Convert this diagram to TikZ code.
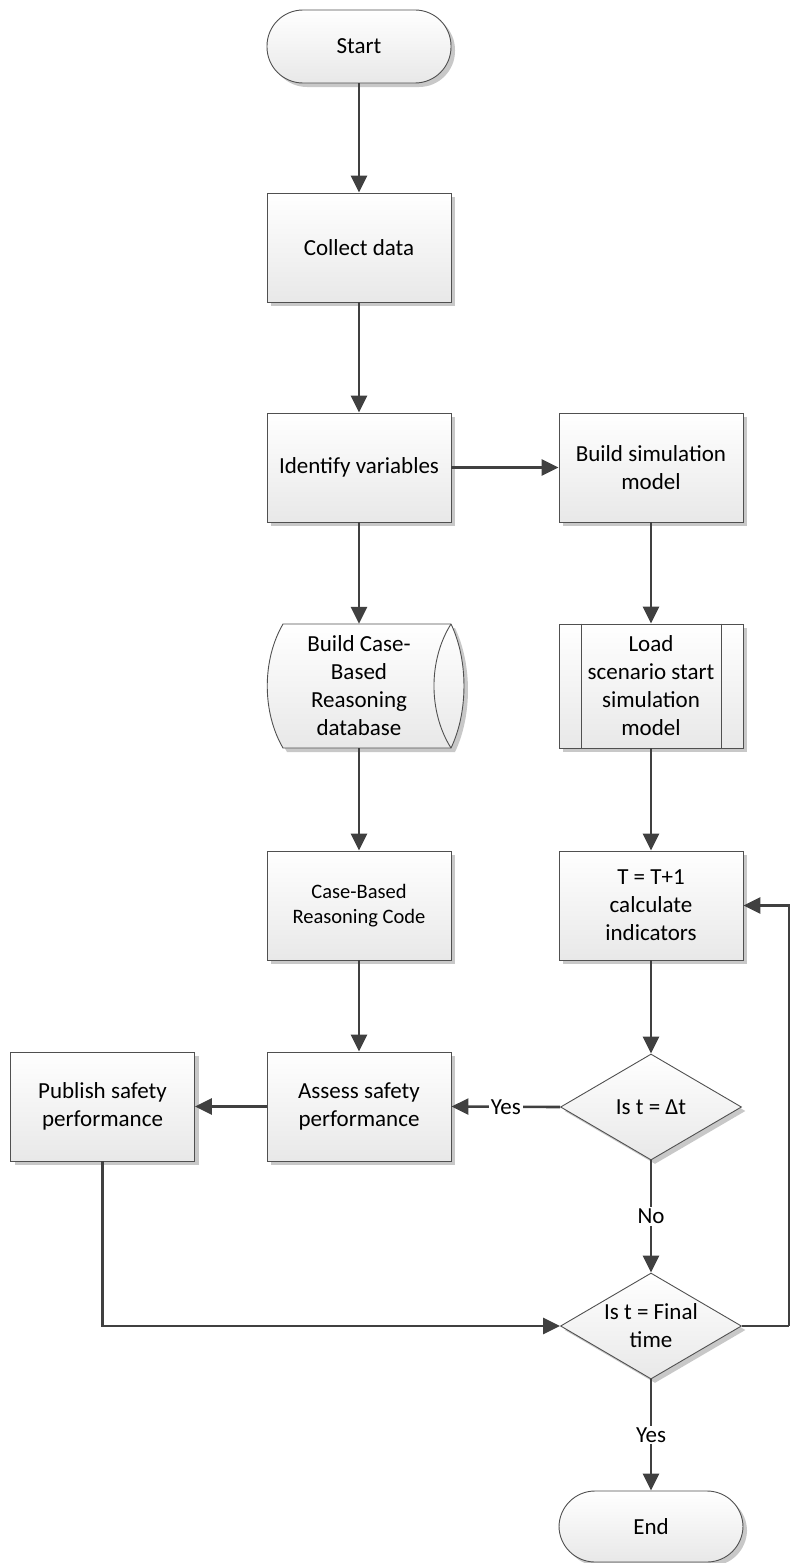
\documentclass[tikz,border=0pt]{standalone}
\usepackage{fontspec}
\setmainfont{Carlito}
\usetikzlibrary{shapes.geometric,arrows.meta,shadows,calc}
\definecolor{linecol}{HTML}{404040}
\definecolor{edgecol}{HTML}{505050}
\definecolor{shadecol}{HTML}{C8C8C8}
\begin{document}
\begin{tikzpicture}[x=1pt,y=-1pt,
  shaded/.style={draw=edgecol, line width=0.9pt, top color=white, bottom color=black!9},
  base/.style={shaded, font=\fontsize{23}{28}\selectfont, align=center, inner sep=0pt,
    drop shadow={shadow xshift=4pt, shadow yshift=-4pt, fill=shadecol, opacity=1}},
  procbox/.style={base, rectangle, minimum width=184pt, minimum height=109pt},
  termbox/.style={base, rectangle, rounded corners=36pt, minimum width=184pt, minimum height=73pt},
  decision/.style={base, diamond, aspect=1.7, minimum width=181pt, minimum height=106pt},
  plain/.style={font=\fontsize{23}{28}\selectfont, align=center, inner sep=0pt},
  flow/.style={draw=linecol, line width=2.6pt, -{Triangle[length=17pt,width=16pt]}},
  line/.style={draw=linecol, line width=2.6pt},
  tag/.style={fill=white, inner sep=2pt, font=\fontsize{23}{28}\selectfont}]
\useasboundingbox (0,0) rectangle (790,1563);

% left column
\node[termbox] (start) at (359,46.5) {Start};
\node[procbox] (collect) at (359,247.5) {Collect data};
\node[procbox] (identify) at (359,467.5) {Identify variables};

% stored-data shape for the case base
\fill[shadecol, shift={(4,4)}] (283,624) -- (451,624) .. controls (468.3,660) and (468.3,712) .. (451,748)
  -- (283,748) .. controls (262,712) and (262,660) .. (283,624) -- cycle;
\path[shaded] (283,624) -- (451,624) .. controls (468.3,660) and (468.3,712) .. (451,748)
  -- (283,748) .. controls (262,712) and (262,660) .. (283,624) -- cycle;
\draw[edgecol, line width=0.9pt] (451,624) .. controls (428.3,660) and (428.3,712) .. (451,748);
\node[plain, minimum width=184pt, minimum height=124pt] (cbrdb) at (359,686)
  {Build Case-\\Based\\Reasoning\\database};

\node[procbox, font=\fontsize{20.5}{25}\selectfont] (cbrcode) at (359,905.5) {Case-Based\\Reasoning Code};
\node[procbox] (assess) at (359,1106.5) {Assess safety\\performance};
\node[procbox] (publish) at (102.5,1106.5) {Publish safety\\performance};

% right column
\node[procbox] (buildsim) at (651,467.5) {Build simulation\\model};
\node[procbox, minimum height=124pt] (load) at (651,686) {Load\\scenario start\\simulation\\model};
\draw[edgecol, line width=0.9pt] ($(load.north west)+(23,0)$) -- ($(load.south west)+(23,0)$);
\draw[edgecol, line width=0.9pt] ($(load.north east)+(-22,0)$) -- ($(load.south east)+(-22,0)$);
\node[procbox] (tcalc) at (651,905.5) {T = T+1\\calculate\\indicators};
\node[decision] (dec1) at (651,1107) {Is t = Δt};
\node[decision] (dec2) at (651,1326) {Is t = Final\\time};
\node[termbox, minimum height=71pt] (finish) at (651,1526.5) {End};

% connectors
\draw[flow] (start) -- (collect);
\draw[flow] (collect) -- (identify);
\draw[flow] (identify) -- (buildsim);
\draw[flow] (identify) -- (cbrdb);
\draw[flow] (cbrdb) -- (cbrcode);
\draw[flow] (cbrcode) -- (assess);
\draw[flow] (buildsim) -- (load);
\draw[flow] (load) -- (tcalc);
\draw[flow] (tcalc) -- (dec1);
\draw[flow] (dec1.west) -- node[tag] {Yes} (assess.east);
\draw[flow] (assess) -- (publish);
\draw[flow] (dec1.south) -- node[tag] {No} (dec2.north);
\draw[flow] (publish.south) |- (dec2.west);
\coordinate (loopx) at (789,1326);
\draw[line] (dec2.east) -- (loopx);
\draw[flow] (loopx) |- (tcalc.east);
\draw[flow] (dec2.south) -- node[tag] {Yes} (finish.north);
\end{tikzpicture}
\end{document}
